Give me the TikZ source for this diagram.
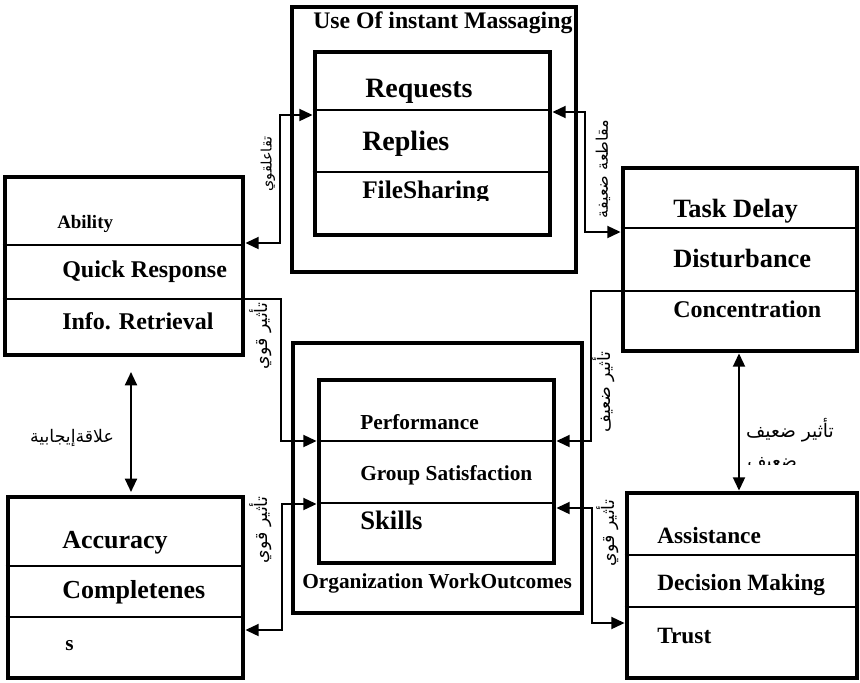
\documentclass[tikz,border=0pt]{standalone}
\usepackage{fontspec}
\setmainfont{Liberation Serif}
\newfontfamily\arabicfont[Script=Arabic]{DejaVu Sans}
\TeXXeTstate=1
\usetikzlibrary{arrows.meta,fit,calc}
\begin{document}
\begin{tikzpicture}[x=0.75pt,y=-0.75pt,
 box/.style={draw, line width=3.6pt, inner sep=0pt},
 sepline/.style={line width=1.3pt},
 conn/.style={line width=1.5pt},
 onetip/.style={-{Triangle[length=10pt,width=9pt]}},
 twotips/.style={{Triangle[length=10pt,width=9pt]}-{Triangle[length=10pt,width=9pt]}},
 lbl/.style={font=\bfseries, anchor=base west, inner sep=0pt},
 arv/.style={inner sep=0pt, rotate=90},
 arh/.style={inner sep=0pt}]
\useasboundingbox (0,0) rectangle (860,682);
% boxes
\node[box, fit={(292,7)(576,272)}] (imOut) {};
\node[box, fit={(315,52)(550,235)}] (imIn) {};
\node[box, fit={(293,343)(582,613)}] (woOut) {};
\node[box, fit={(319,380)(554,563)}] (woIn) {};
\node[box, fit={(5,177)(243,355)}] (lt) {};
\node[box, fit={(8,497)(243,678)}] (lb) {};
\node[box, fit={(623,168)(857,351)}] (rt) {};
\node[box, fit={(627,493)(857,678)}] (rb) {};
% separators
\draw[sepline] (imIn.west |- 0,110) -- (imIn.east |- 0,110);
\draw[sepline] (imIn.west |- 0,172) -- (imIn.east |- 0,172);
\draw[sepline] (woIn.west |- 0,441) -- (woIn.east |- 0,441);
\draw[sepline] (woIn.west |- 0,503) -- (woIn.east |- 0,503);
\draw[sepline] (lt.west |- 0,245) -- (lt.east |- 0,245);
\draw[sepline] (lt.west |- 0,299) -- (lt.east |- 0,299);
\draw[sepline] (lb.west |- 0,566) -- (lb.east |- 0,566);
\draw[sepline] (lb.west |- 0,617) -- (lb.east |- 0,617);
\draw[sepline] (rt.west |- 0,228) -- (rt.east |- 0,228);
\draw[sepline] (rt.west |- 0,291) -- (rt.east |- 0,291);
\draw[sepline] (rb.west |- 0,555) -- (rb.east |- 0,555);
\draw[sepline] (rb.west |- 0,607) -- (rb.east |- 0,607);
% texts
\node[lbl, font=\bfseries\fontsize{17.8}{20}\selectfont] (t0) at (313,28) {Use Of instant Massaging};
\node[lbl, font=\bfseries\fontsize{21}{24}\selectfont] (t1) at (365,97) {Requests};
\node[lbl, font=\bfseries\fontsize{21}{24}\selectfont] (t2) at (362,150) {Replies};
\begin{scope}
\clip (320,175) rectangle (545,200);
\node[lbl, font=\bfseries\fontsize{19}{22}\selectfont] (t3) at (362,198) {FileSharing};
\end{scope}
\node[lbl, font=\bfseries\fontsize{14.2}{16}\selectfont] (l1) at (57,228) {Ability};
\node[lbl, font=\bfseries\fontsize{18}{21}\selectfont] (l2) at (62,277) {Quick Response};
\node[lbl, font=\bfseries\fontsize{18}{21}\selectfont] (l3) at (62,329) {Info. Retrieval};
\node[lbl, font=\bfseries\fontsize{19.5}{23}\selectfont] (b1) at (62,548) {Accuracy};
\node[lbl, font=\bfseries\fontsize{19.5}{23}\selectfont] (b2) at (62,598) {Completenes};
\node[lbl, font=\bfseries\fontsize{16}{19}\selectfont] (b3) at (65,650) {s};
\node[lbl, font=\bfseries\fontsize{19.8}{23}\selectfont] (r1) at (673,217) {Task Delay};
\node[lbl, font=\bfseries\fontsize{19.8}{23}\selectfont] (r2) at (673,267) {Disturbance};
\node[lbl, font=\bfseries\fontsize{18}{22}\selectfont] (r3) at (673,317) {Concentration};
\node[lbl, font=\bfseries\fontsize{16}{19}\selectfont] (w1) at (360,429) {Performance};
\node[lbl, font=\bfseries\fontsize{16}{19}\selectfont] (w2) at (360,480) {Group Satisfaction};
\node[lbl, font=\bfseries\fontsize{20}{24}\selectfont] (w3) at (360,529) {Skills};
\node[lbl, font=\bfseries\fontsize{16}{19}\selectfont] (w4) at (302,588) {Organization WorkOutcomes};
\node[lbl, font=\bfseries\fontsize{17.5}{20}\selectfont] (s1) at (657,543) {Assistance};
\node[lbl, font=\bfseries\fontsize{17.5}{20}\selectfont] (s2) at (657,590) {Decision Making};
\node[lbl, font=\bfseries\fontsize{17.5}{20}\selectfont] (s3) at (657,643) {Trust};
% connectors
\draw[conn,twotips] (lt.east |- 0,243) -- (280,243) -- (280,115) -- (imIn.west |- 0,115);
\draw[conn,twotips] (imIn.east |- 0,112) -- (585,112) -- (585,232) -- (rt.west |- 0,232);
\draw[conn,onetip] (lt.east |- 0,299) -- (281,299) -- (281,441) -- (woIn.west |- 0,441);
\draw[conn,onetip] (rt.west |- 0,291) -- (591,291) -- (591,441) -- (woIn.east |- 0,441);
\draw[conn,twotips] (woIn.west |- 0,504) -- (282,504) -- (282,630) -- (lb.east |- 0,630);
\draw[conn,twotips] (woIn.east |- 0,508) -- (592,508) -- (592,623) -- (rb.west |- 0,623);
\coordinate (d1a) at (131,372);
\coordinate (d1b) at (131,492);
\draw[conn,twotips] (d1a) -- (d1b);
\draw[conn,twotips] (rt.south -| 739,0) -- (rb.north -| 739,0);
% arabic labels
\node[arv, font=\arabicfont\fontsize{10.8}{12}\selectfont] (a1) at (268,164) {\beginR تقاعلقوي\endR};
\node[arv, font=\arabicfont\fontsize{12}{14}\selectfont] (a2) at (603,169) {\beginR مقاطعة ضعيفة\endR};
\node[arv, font=\arabicfont\fontsize{13}{15}\selectfont] (a3) at (261,336) {\beginR تأثير قوي\endR};
\node[arv, font=\arabicfont\fontsize{13}{15}\selectfont] (a4) at (604,392) {\beginR تأثير ضعيف\endR};
\node[arv, font=\arabicfont\fontsize{13}{15}\selectfont] (a5) at (261,530) {\beginR تأثير قوي\endR};
\node[arv, font=\arabicfont\fontsize{13}{15}\selectfont] (a6) at (608,533) {\beginR تأثير قوي\endR};
\node[arh, font=\arabicfont\fontsize{13}{15}\selectfont] (a7) at (72,438) {\beginR علاقةإيجابية\endR};
\node[arh, font=\arabicfont\fontsize{14}{16}\selectfont] (a8) at (790,430) {\beginR تأثير ضعيف\endR};
\begin{scope}
\clip (740,445) rectangle (860,464);
\node[arh, font=\arabicfont\fontsize{14}{16}\selectfont, anchor=base west] (a9) at (747,467) {\beginR ضعيف\endR};
\end{scope}
\end{tikzpicture}
\end{document}
